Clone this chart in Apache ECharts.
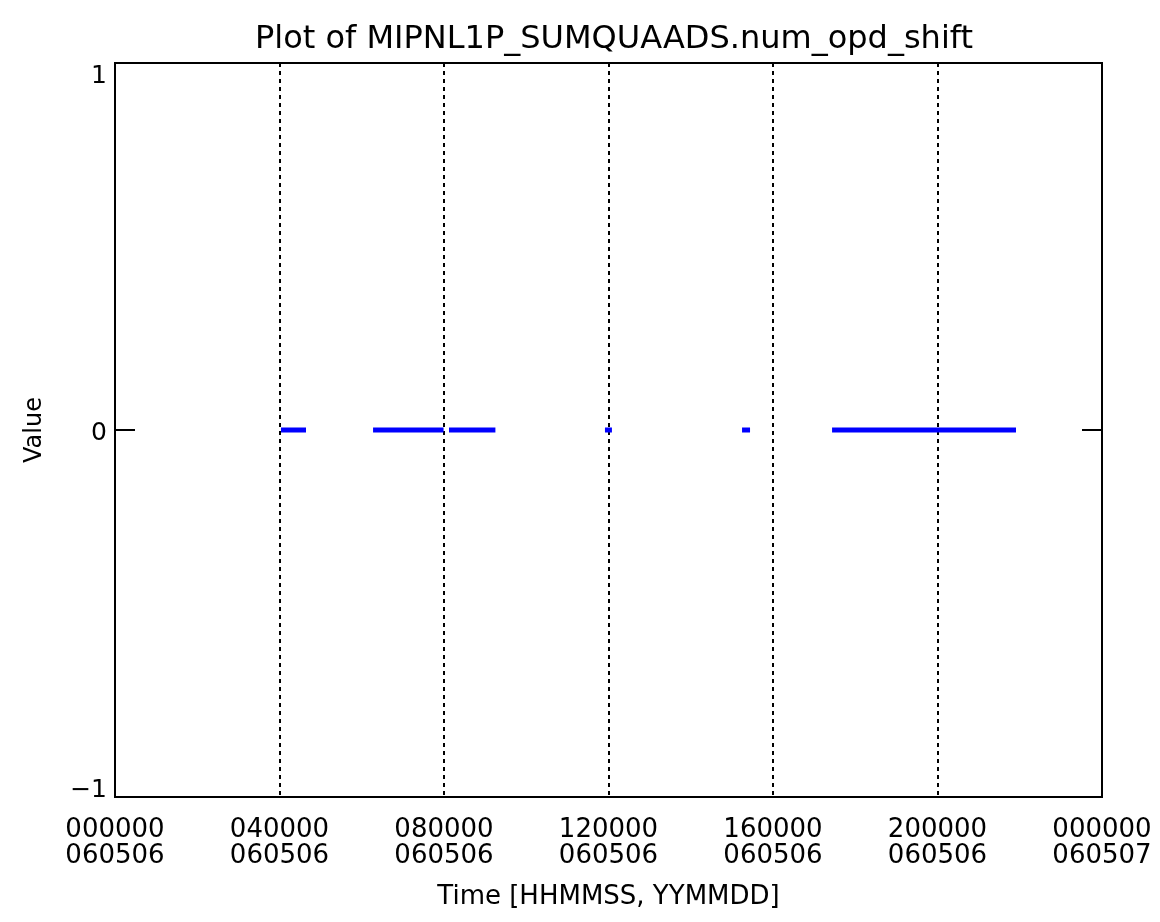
<!DOCTYPE html>
<html lang="en">

<head>
    <meta charset="UTF-8">
    <title>MIPNL1P_SUMQUAADS.num_opd_shift</title>
    <style>
        html, body {
            margin: 0;
            padding: 0;
            background: #fff;
        }

        #box {
            width: 1160px;
            height: 922px;
        }
    </style>
    <script src="https://cdn.jsdelivr.net/npm/echarts@6/dist/echarts.min.js"></script>
</head>

<body>
    <div id="box"></div>
    <script>
        // seconds since 060506 000000
        var segStart = [14530, 22590, 29240, 42890, 54890, 62770]
        var segEnd = [16720, 28760, 33300, 43500, 55590, 78870]
        var segValue = [0, 0, 0, 0, 0, 0]

        var timeLabels = ['000000', '040000', '080000', '120000', '160000', '200000', '000000']
        var dateLabels = ['060506', '060506', '060506', '060506', '060506', '060506', '060507']
        var yTicks = [-1, 0, 1]

        var lineData = []
        for (let i = 0; i < segStart.length; i++) {
            lineData.push([segStart[i], segValue[i]])
            lineData.push([segEnd[i], segValue[i]])
            lineData.push([segEnd[i], null])
        }

        var font = 'DejaVu Sans'
        var myChart = echarts.init(document.querySelector('#box'))

        var option = {
            animation: false,
            backgroundColor: '#fff',
            title: {
                text: 'Plot of MIPNL1P_SUMQUAADS.num_opd_shift',
                left: 609,
                textAlign: 'center',
                top: 19,
                textStyle: {
                    fontFamily: font,
                    fontSize: 32,
                    fontWeight: 'normal',
                    color: '#000'
                }
            },
            grid: {
                left: 115,
                right: 58,
                top: 63,
                bottom: 125,
                show: true,
                borderColor: '#000',
                borderWidth: 2
            },
            xAxis: {
                type: 'value',
                min: 0,
                max: 86400,
                interval: 14400,
                name: 'Time [HHMMSS, YYMMDD]',
                nameLocation: 'middle',
                nameGap: 87,
                nameTextStyle: {
                    fontFamily: font,
                    fontSize: 26,
                    color: '#000'
                },
                axisLine: { show: false },
                axisTick: { show: false },
                axisLabel: {
                    fontFamily: font,
                    fontSize: 26,
                    color: '#000',
                    lineHeight: 26,
                    margin: 20,
                    formatter: function(v) {
                        let i = Math.round(v / 14400)
                        return timeLabels[i] + '\n' + dateLabels[i]
                    }
                },
                splitLine: {
                    show: true,
                    lineStyle: {
                        color: '#000',
                        width: 2,
                        type: [4, 4]
                    }
                }
            },
            yAxis: [{
                type: 'value',
                min: yTicks[0],
                max: yTicks[2],
                interval: 1,
                name: 'Value',
                nameLocation: 'middle',
                nameGap: 68,
                nameTextStyle: {
                    fontFamily: font,
                    fontSize: 24,
                    color: '#000'
                },
                axisLine: { show: false },
                axisTick: {
                    show: true,
                    inside: true,
                    length: 20,
                    lineStyle: { color: '#000', width: 2 }
                },
                axisLabel: {
                    color: '#000',
                    margin: 8,
                    formatter: function(v) {
                        if (v === 1) return '{t|1}'
                        if (v === -1) return '{b|\u22121}'
                        return '{m|0}'
                    },
                    rich: {
                        t: { fontFamily: font, fontSize: 25, color: '#000', padding: [26, 0, 0, 0] },
                        m: { fontFamily: font, fontSize: 25, color: '#000', padding: [6, 0, 0, 0] },
                        b: { fontFamily: font, fontSize: 25, color: '#000', padding: [0, 0, 14, 0] }
                    }
                },
                splitLine: { show: false }
            }, {
                type: 'value',
                position: 'right',
                min: yTicks[0],
                max: yTicks[2],
                interval: 1,
                axisLine: { show: false },
                axisTick: {
                    show: true,
                    inside: true,
                    length: 20,
                    lineStyle: { color: '#000', width: 2 }
                },
                axisLabel: { show: false },
                splitLine: { show: false }
            }],
            series: [{
                type: 'line',
                data: lineData,
                connectNulls: false,
                showSymbol: false,
                lineStyle: {
                    color: '#0000ff',
                    width: 5
                }
            }]
        }

        myChart.setOption(option)
    </script>
</body>

</html>
